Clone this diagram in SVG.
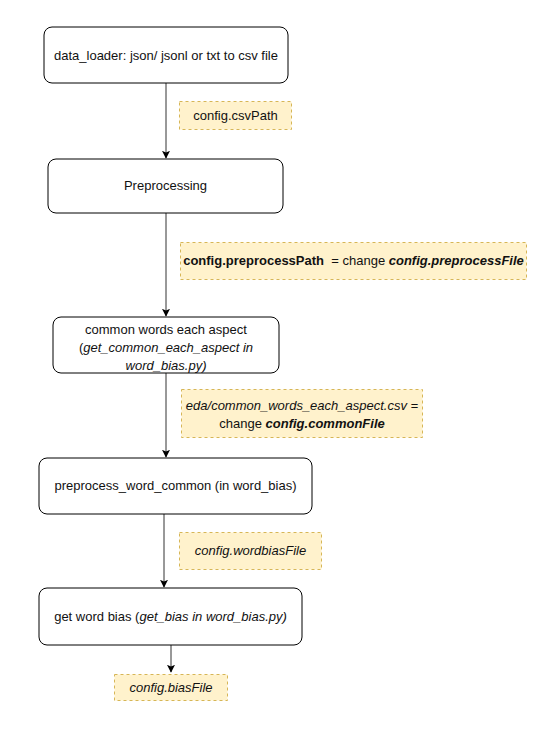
<svg xmlns="http://www.w3.org/2000/svg" width="553" height="744" viewBox="0 0 553 744">
<defs>
<marker id="arr" viewBox="0 0 10 10" refX="9" refY="5" markerWidth="8" markerHeight="8" markerUnits="userSpaceOnUse" orient="auto">
<path d="M0,0 L10,5 L0,10 L2,5 Z" fill="#000"/>
</marker>
<style>
.node{fill:#fff;stroke:#000;stroke-width:1}
.note{fill:#fff2cc;stroke:#d6b656;stroke-width:1;stroke-dasharray:3,3}
.t{font-family:"Liberation Sans",Arial,sans-serif;font-size:13px;fill:#111;text-anchor:middle}
.i{font-style:italic}
.b{font-weight:bold}
.edge{stroke:#333;stroke-width:1;fill:none;marker-end:url(#arr)}
</style>
</defs>
<rect width="553" height="744" fill="#fff"/>
<g id="connectors">
<line class="edge" x1="166" y1="83" x2="166" y2="158"/>
<line class="edge" x1="166" y1="213" x2="166" y2="316"/>
<line class="edge" x1="166" y1="373" x2="166" y2="457"/>
<line class="edge" x1="164" y1="514" x2="164" y2="587"/>
<line class="edge" x1="171" y1="645" x2="171" y2="672"/>
</g>
<g id="node-data-loader">
<rect class="node" x="44" y="27" width="244" height="56" rx="8"/>
<text class="t" x="166" y="60">data_loader: json/ jsonl or txt to csv file</text>
</g>
<g id="note-csvpath">
<rect class="note" x="179.5" y="101.5" width="112" height="28"/>
<text class="t" x="235.5" y="120">config.csvPath</text>
</g>
<g id="node-preprocessing">
<rect class="node" x="48" y="159" width="235" height="54" rx="8"/>
<text class="t" x="165.5" y="190">Preprocessing</text>
</g>
<g id="note-preprocesspath">
<rect class="note" x="180.5" y="242.5" width="346" height="37"/>
<text class="t" x="353.5" y="265" xml:space="preserve"><tspan class="b">config.preprocessPath</tspan>  = change <tspan class="b i">config.preprocessFile</tspan></text>
</g>
<g id="node-common-words">
<rect class="node" x="53" y="317" width="226" height="56" rx="8"/>
<text class="t" x="166" y="334">common words each aspect</text>
<text class="t i" x="166" y="352"><tspan font-style="normal">(</tspan>get_common_each_aspect in</text>
<text class="t i" x="166" y="370">word_bias.py)</text>
</g>
<g id="note-commonfile">
<rect class="note" x="181.5" y="389.5" width="241" height="48"/>
<text class="t i" x="302" y="410">eda/common_words_each_aspect.csv =</text>
<text class="t" x="302" y="428">change <tspan class="b i">config.commonFile</tspan></text>
</g>
<g id="node-preprocess-word-common">
<rect class="node" x="39" y="458" width="273" height="56" rx="8"/>
<text class="t" x="175.5" y="490">preprocess_word_common (in word_bias)</text>
</g>
<g id="note-wordbiasfile">
<rect class="note" x="179.5" y="532.5" width="142" height="37"/>
<text class="t i" x="250.5" y="555">config.wordbiasFile</text>
</g>
<g id="node-get-word-bias">
<rect class="node" x="39" y="588" width="263" height="57" rx="8"/>
<text class="t" x="170.5" y="621">get word bias (<tspan class="i">get_bias in word_bias.py)</tspan></text>
</g>
<g id="note-biasfile">
<rect class="note" x="114.5" y="674.5" width="113" height="26"/>
<text class="t i" x="171" y="692">config.biasFile</text>
</g>
</svg>
